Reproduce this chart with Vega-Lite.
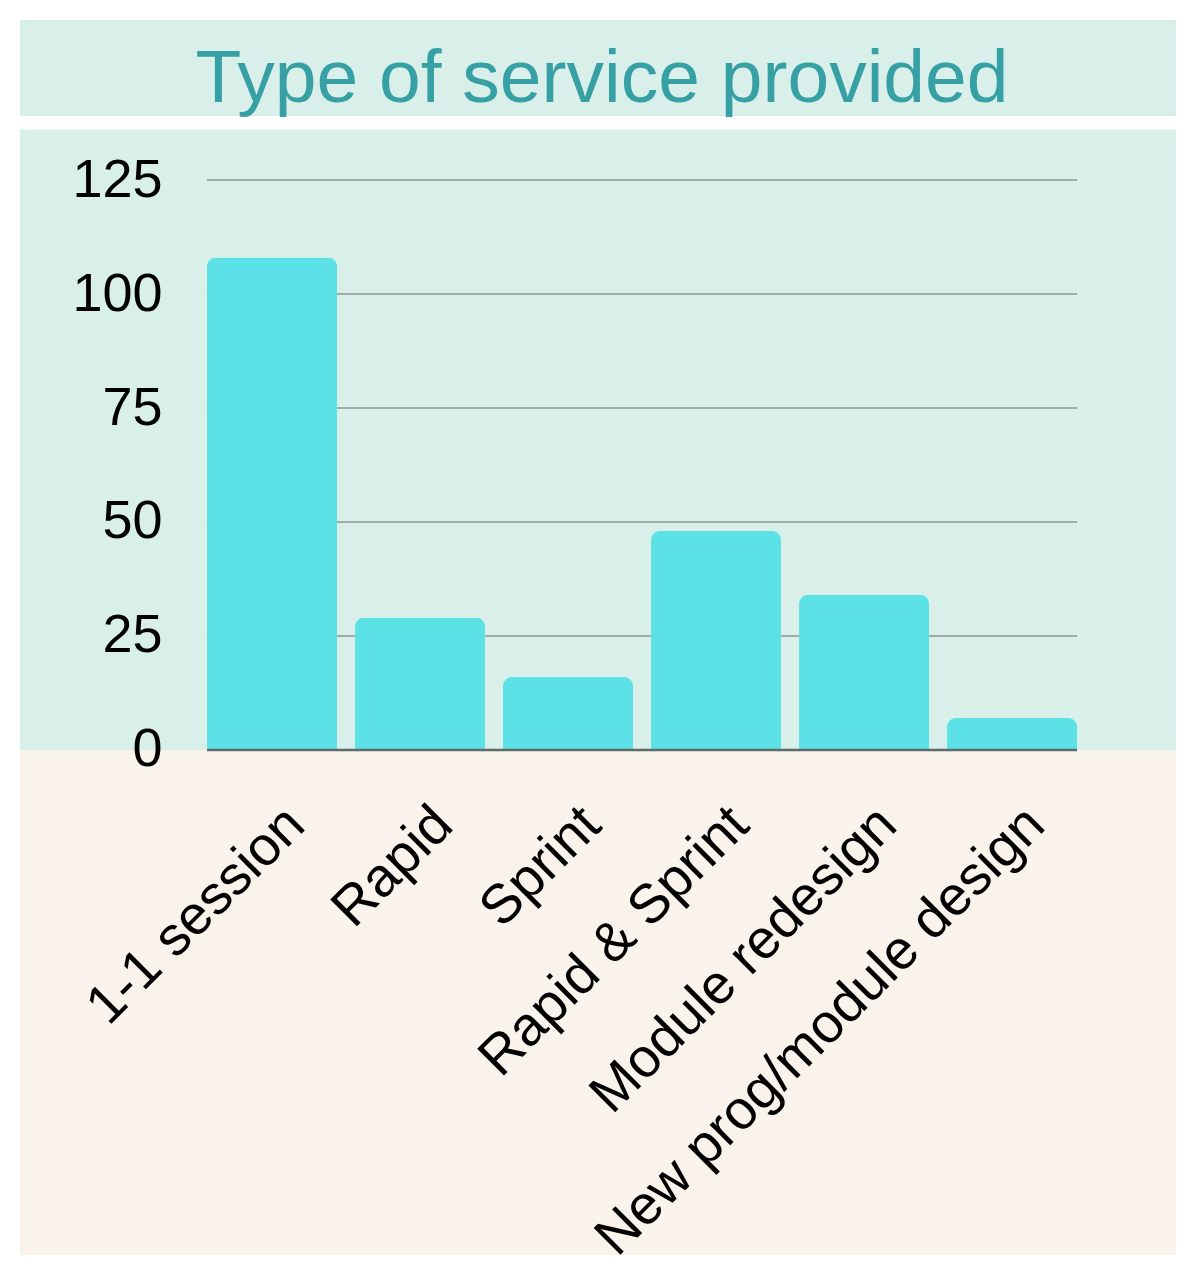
{
  "$schema": "https://vega.github.io/schema/vega-lite/v6.json",
  "description": "Bar chart of the type of service provided.",
  "width": 1156,
  "height": 1235,
  "autosize": {"type": "none"},
  "padding": {"left": 20, "top": 20, "right": 24, "bottom": 25},
  "background": "#ffffff",
  "datasets": {
    "services": [
      {"service": "1-1 session", "count": 108},
      {"service": "Rapid", "count": 29},
      {"service": "Sprint", "count": 16},
      {"service": "Rapid & Sprint", "count": 48},
      {"service": "Module redesign", "count": 34},
      {"service": "New prog/module design", "count": 7}
    ],
    "blank": [{}],
    "grid": [{"v": 25}, {"v": 50}, {"v": 75}, {"v": 100}, {"v": 125}]
  },
  "title": {
    "text": "Type of service provided",
    "font": "Liberation Sans",
    "fontSize": 75,
    "fontWeight": "normal",
    "color": "#37a0a4",
    "anchor": "middle",
    "frame": "group",
    "offset": -97.5,
    "dx": 4
  },
  "layer": [
    {
      "data": {"name": "blank"},
      "mark": {"type": "rect", "color": "#faf3ec"},
      "encoding": {
        "y": {"datum": 0, "type": "quantitative"},
        "y2": {"datum": -110.75}
      }
    },
    {
      "data": {"name": "blank"},
      "mark": {"type": "rule", "color": "#ffffff", "strokeWidth": 13.5},
      "encoding": {
        "y": {"datum": 137.55, "type": "quantitative"}
      }
    },
    {
      "data": {"name": "grid"},
      "mark": {"type": "rule", "color": "#a2aba8", "strokeWidth": 2},
      "encoding": {
        "y": {"field": "v", "type": "quantitative"},
        "x": {"datum": "1-1 session", "type": "nominal", "bandPosition": 0},
        "x2": {"datum": "New prog/module design", "bandPosition": 1}
      }
    },
    {
      "data": {"name": "services"},
      "mark": {"type": "bar", "color": "#5ce1e6", "cornerRadiusTopLeft": 9, "cornerRadiusTopRight": 9},
      "encoding": {
        "x": {
          "field": "service",
          "type": "nominal",
          "sort": null,
          "scale": {
            "domain": ["1-1 session", "Rapid", "Sprint", "Rapid & Sprint", "Module redesign", "New prog/module design"],
            "paddingInner": 0.1216,
            "paddingOuter": 0.966,
            "align": 0.654
          },
          "axis": {
            "title": null,
            "orient": "bottom",
            "offset": -505,
            "domain": false,
            "ticks": false,
            "tickSize": 0,
            "grid": false,
            "labelAngle": -45,
            "labelAlign": "right",
            "labelBaseline": "top",
            "labelPadding": 47,
            "labelOffset": 5,
            "labelLimit": 1000,
            "labelFont": "Liberation Sans",
            "labelFontSize": 55,
            "labelColor": "#000000",
            "zindex": 2
          }
        },
        "y": {
          "field": "count",
          "type": "quantitative",
          "scale": {"domain": [-110.75, 160.09], "nice": false, "zero": false},
          "axis": {
            "title": null,
            "values": [0, 25, 50, 75, 100, 125],
            "offset": -142,
            "domain": false,
            "ticks": false,
            "tickSize": 0,
            "grid": false,
            "labelPadding": 0,
            "labelFlush": false,
            "labelOverlap": false,
            "labelFont": "Liberation Sans",
            "labelFontSize": 54,
            "labelColor": "#000000",
            "zindex": 2
          }
        }
      }
    },
    {
      "data": {"name": "blank"},
      "mark": {"type": "rule", "color": "#5d6a67", "strokeWidth": 2.5},
      "encoding": {
        "y": {"datum": 0, "type": "quantitative"},
        "x": {"datum": "1-1 session", "type": "nominal", "bandPosition": 0},
        "x2": {"datum": "New prog/module design", "bandPosition": 1}
      }
    }
  ],
  "config": {
    "view": {"stroke": null, "fill": "#d8f0e9"}
  }
}
